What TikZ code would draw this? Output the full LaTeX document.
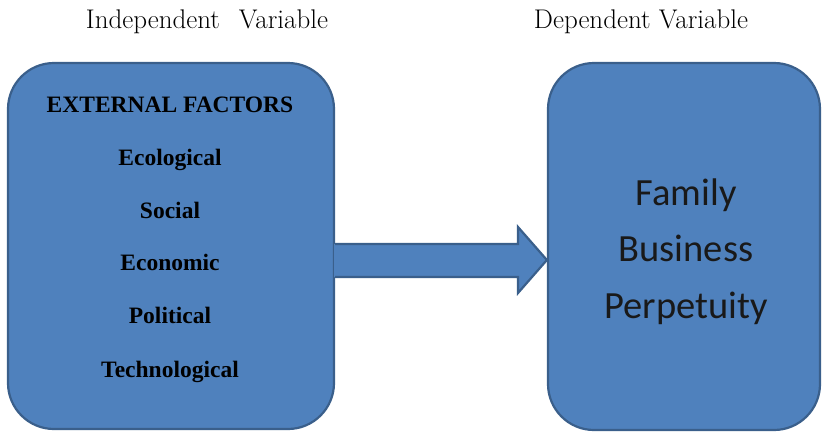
\documentclass[tikz,border=0pt]{standalone}
\usepackage{fontspec}
\newfontfamily\timesb{Liberation Serif}
\newfontfamily\calib{Carlito}
\definecolor{boxfill}{HTML}{4F81BD}
\definecolor{boxline}{HTML}{3A5F8B}
\tikzset{
  bluebox/.style={draw=boxline, line width=2.2pt, fill=boxfill, rounded corners=46pt, inner sep=0pt},
  factor/.style={anchor=base, inner sep=0pt, font=\timesb\bfseries\fontsize{23.5}{28}\selectfont, text=black},
  outcome/.style={anchor=base, inner sep=0pt, font=\calib\fontsize{38.5}{46}\selectfont, text=black!90},
  heading/.style={anchor=base, inner sep=0pt, font=\fontsize{27}{32}\selectfont, text=black}
}
\begin{document}
\begin{tikzpicture}[x=1pt, y=-1pt]
\useasboundingbox (0,0) rectangle (824,432);
\node[bluebox, minimum width=326pt, minimum height=366pt] (L) at (171,246) {};
\node[bluebox, minimum width=272pt, minimum height=367pt] (R) at (684,246.5) {};
% arrow
\coordinate (A1) at (L.east |- 0,244);
\coordinate (A2) at (L.east |- 0,277);
\coordinate (T) at (R.west |- 0,260);
\fill[boxfill] ([xshift=-1.1pt]A1) -- (518,244) -- (518,227) -- (T) -- (518,293) -- (518,277) -- ([xshift=-1.1pt]A2) -- cycle;
\draw[boxline, line width=2.2pt, line join=miter] (A1) -- (518,244) -- (518,227) -- (T) -- (518,293) -- (518,277) -- (A2);
% headings
\node[heading] (h1) at (207,28) {Independent\hspace{0.7em}Variable};
\node[heading] (h2) at (641,28) {Dependent Variable};
% left text
\node[factor] (f0) at (170,112) {EXTERNAL FACTORS};
\node[factor] (f1) at (170,165) {Ecological};
\node[factor] (f2) at (170,218) {Social};
\node[factor] (f3) at (170,270) {Economic};
\node[factor] (f4) at (170,323) {Political};
\node[factor] (f5) at (170,377) {Technological};
% right text
\node[outcome] (o1) at (686,205) {Family};
\node[outcome] (o2) at (686,261) {Business};
\node[outcome] (o3) at (686,318) {Perpetuity};
\end{tikzpicture}
\end{document}
